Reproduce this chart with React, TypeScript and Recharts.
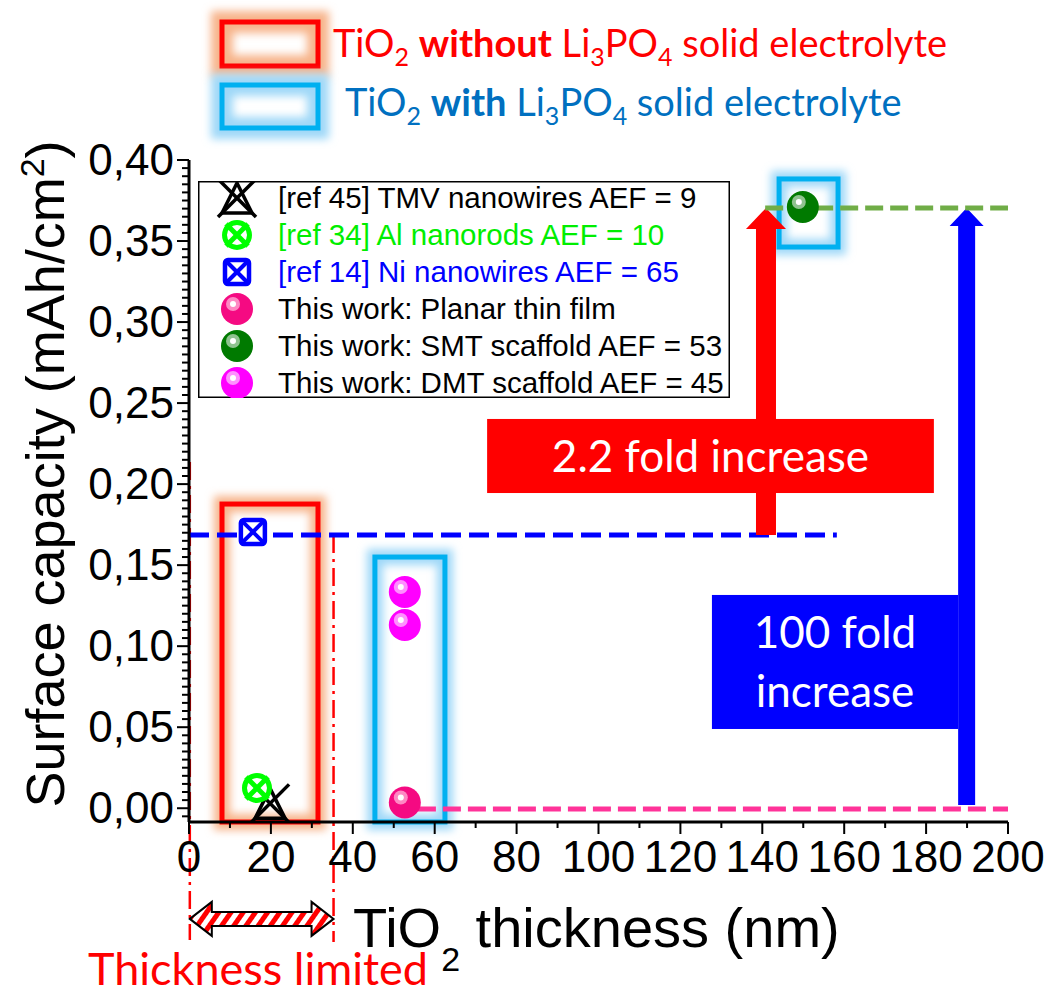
import React from 'react';
import { ScatterChart, Scatter, XAxis, YAxis, ReferenceLine, ReferenceArea, Legend } from 'recharts';

// TiO2 thickness (nm) vs surface capacity (mAh/cm2)
const tmvNanowires = [{ x: 19.8, y: 0.003 }];
const alNanorods = [{ x: 16.6, y: 0.0125 }];
const niNanowires = [{ x: 15.6, y: 0.1705 }];
const planarFilm = [{ x: 52.7, y: 0.0035 }];
const smtScaffold = [{ x: 149.9, y: 0.371 }];
const dmtScaffold = [{ x: 52.7, y: 0.1334 }, { x: 52.7, y: 0.1131 }];

const X_DOMAIN = [0, 200];
const Y_DOMAIN = [-0.0085, 0.4];
const X_TICKS = [0, 10, 20, 30, 40, 50, 60, 70, 80, 90, 100, 110, 120, 130, 140, 150, 160, 170, 180, 190, 200];
const Y_MAJOR = [0, 0.05, 0.1, 0.15, 0.2, 0.25, 0.3, 0.35, 0.4];
const Y_TICKS = Array.from({ length: 82 }, (_, i) => Math.round((i - 1) * 5) / 1000);

// guide levels / ranges
const NI_LEVEL = 0.1686;
const SMT_LEVEL = 0.3704;
const PLANAR_LEVEL = -0.0005;
const THICKNESS_LIMIT = 35.3;

const ARIAL = '"Liberation Sans", Arial, sans-serif';
const CALIBRI = 'Lato, "Open Sans", sans-serif';

const isMajorY = (v: number) => Y_MAJOR.some((m) => Math.abs(m - v) < 1e-6);

function GlowRect({ x, y, width, height, stroke, glow, id, spread = 16 }: any) {
  return (
    <g>
      <defs>
        <filter id={id} x="-60%" y="-60%" width="220%" height="220%">
          <feGaussianBlur stdDeviation="4.5" />
        </filter>
      </defs>
      <rect x={x} y={y} width={width} height={height} fill="none" stroke={glow} strokeWidth={spread} filter={`url(#${id})`} />
      <rect x={x} y={y} width={width} height={height} fill="none" stroke={stroke} strokeWidth={5} />
    </g>
  );
}

function Sphere({ cx, cy, color, light }: any) {
  return (
    <g>
      <circle cx={cx} cy={cy} r={16} fill={color} />
      <circle cx={cx - 4} cy={cy - 5} r={7} fill={light} opacity={0.85} />
      <circle cx={cx - 4} cy={cy - 5} r={3} fill="#ffffff" />
    </g>
  );
}

function TmvMarker({ cx, cy }: any) {
  return (
    <g stroke="#000" strokeWidth={3.5} fill="none">
      <line x1={cx - 19} y1={cy - 19} x2={cx + 19} y2={cy + 19} />
      <line x1={cx + 19} y1={cy - 19} x2={cx - 19} y2={cy + 19} />
      <polygon points={`${cx},${cy - 15} ${cx + 15},${cy + 15} ${cx - 15},${cy + 15}`} />
    </g>
  );
}

function AlMarker({ cx, cy }: any) {
  return (
    <g stroke="#00ff00" strokeWidth={5} fill="#fff">
      <circle cx={cx} cy={cy} r={12.5} />
      <line x1={cx - 11} y1={cy - 11} x2={cx + 11} y2={cy + 11} />
      <line x1={cx + 11} y1={cy - 11} x2={cx - 11} y2={cy + 11} />
    </g>
  );
}

function NiMarker({ cx, cy }: any) {
  return (
    <g stroke="#0000ff" fill="#fff">
      <rect x={cx - 12} y={cy - 12} width={24} height={24} rx={3} strokeWidth={4.5} />
      <line x1={cx - 11} y1={cy - 11} x2={cx + 11} y2={cy + 11} strokeWidth={4} />
      <line x1={cx + 11} y1={cy - 11} x2={cx - 11} y2={cy + 11} strokeWidth={4} />
    </g>
  );
}

const SERIES = [
  { name: '[ref 45] TMV nanowires AEF = 9', data: tmvNanowires, text: '#000000', Marker: TmvMarker },
  { name: '[ref 34] Al nanorods AEF = 10', data: alNanorods, text: '#00ee00', Marker: AlMarker },
  { name: '[ref 14] Ni nanowires AEF = 65', data: niNanowires, text: '#0000ff', Marker: NiMarker },
  { name: 'This work: Planar thin film', data: planarFilm, text: '#000000', Marker: (p: any) => <Sphere {...p} color="#f50a82" light="#ff9fcf" /> },
  { name: 'This work: SMT scaffold AEF = 53', data: smtScaffold, text: '#000000', Marker: (p: any) => <Sphere {...p} color="#007a00" light="#a8d0a8" /> },
  { name: 'This work: DMT scaffold AEF = 45', data: dmtScaffold, text: '#000000', Marker: (p: any) => <Sphere {...p} color="#ff00ff" light="#ffa8ff" /> },
];

const LeftTick = ({ x, y, payload }: any) => {
  const major = isMajorY(payload.value);
  return (
    <g>
      <line x1={x} x2={x - (major ? 12 : 7)} y1={y} y2={y} stroke="#000" strokeWidth={2} />
      {major && (
        <text x={x - 15} y={y + 15} textAnchor="end" fontSize={44} fontFamily={ARIAL} fill="#000">
          {payload.value.toFixed(2).replace('.', ',')}
        </text>
      )}
    </g>
  );
};

const RightTick = ({ x, y, payload }: any) => {
  const major = isMajorY(payload.value);
  return <line x1={x} x2={x - (major ? 12 : 7)} y1={y} y2={y} stroke="#000" strokeWidth={2} />;
};

const BottomTick = ({ x, y, payload }: any) => {
  const major = payload.value % 20 === 0;
  return (
    <g>
      <line x1={x} x2={x} y1={y} y2={y + (major ? 12 : 6)} stroke="#000" strokeWidth={2} />
      {major && (
        <text x={x} y={y + 50} textAnchor="middle" fontSize={44} fontFamily={ARIAL} fill="#000">
          {payload.value}
        </text>
      )}
    </g>
  );
};

const TopTick = ({ x, y }: any) => <line x1={x} x2={x} y1={y} y2={y + 10} stroke="#000" strokeWidth={2} />;

const glowBox = (stroke: string, glow: string, id: string) => (p: any) => (
  <GlowRect x={p.x} y={p.y} width={p.width} height={p.height} stroke={stroke} glow={glow} id={id} />
);

const upArrow = (color: string, shaft: number, head: number, headLen: number) => (p: any) => {
  const x = p.x1;
  const tip = Math.min(p.y1, p.y2);
  const base = Math.max(p.y1, p.y2);
  const pts = [
    [x, tip], [x + head, tip + headLen], [x + shaft, tip + headLen], [x + shaft, base],
    [x - shaft, base], [x - shaft, tip + headLen], [x - head, tip + headLen],
  ];
  return <polygon points={pts.map((q) => q.join(',')).join(' ')} fill={color} />;
};

const hatchedArrow = (p: any) => {
  const x0 = Math.min(p.x1, p.x2);
  const x1 = Math.max(p.x1, p.x2);
  const cy = p.y1;
  const h = 7, H = 17, L = 22;
  const pts = [
    [x0, cy], [x0 + L, cy - H], [x0 + L, cy - h], [x1 - L, cy - h], [x1 - L, cy - H],
    [x1, cy], [x1 - L, cy + H], [x1 - L, cy + h], [x0 + L, cy + h], [x0 + L, cy + H],
  ];
  return (
    <g>
      <defs>
        <pattern id="hatch" patternUnits="userSpaceOnUse" width={10} height={10} patternTransform="rotate(35)">
          <rect width={10} height={10} fill="#fff" />
          <rect width={5} height={10} fill="#ff0000" />
        </pattern>
      </defs>
      <polygon points={pts.map((q) => q.join(',')).join(' ')} fill="url(#hatch)" stroke="#000" strokeWidth={2} />
    </g>
  );
};

// callout drawn from a diagonal segment (corner to corner) so it stacks with the arrows
const callout = (fill: string, lines: string[], offsets: number[]) => (p: any) => {
  const x = Math.min(p.x1, p.x2);
  const y = Math.min(p.y1, p.y2);
  const w = Math.abs(p.x2 - p.x1);
  const h = Math.abs(p.y2 - p.y1);
  const cx = x + w / 2;
  const cy = y + h / 2;
  return (
    <g>
      <rect x={x} y={y} width={w} height={h} fill={fill} />
      {lines.map((t, i) => (
        <text key={t} x={cx} y={cy + offsets[i]} textAnchor="middle" fontSize={44} fontFamily={CALIBRI} fill="#fff">
          {t}
        </text>
      ))}
    </g>
  );
};

const renderLegend = () => (
  <svg width={532} height={217} style={{ display: 'block' }}>
    <rect x={0.75} y={0.75} width={530.5} height={215.5} fill="#fff" stroke="#000" strokeWidth={1.5} />
    {SERIES.map((s, i) => {
      const cy = 17 + i * 37;
      const M = s.Marker;
      return (
        <g key={s.name}>
          <M cx={39} cy={cy} />
          <text x={80} y={cy + 10} fontSize={29.5} fontFamily={ARIAL} fill={s.text}>
            {s.name}
          </text>
        </g>
      );
    })}
  </svg>
);

const sub = (t: string) => (
  <tspan dy={9} fontSize={25}>{t}</tspan>
);

export default function App() {
  return (
    <div style={{ position: 'absolute', left: 0, top: 0, width: 1048, height: 996, background: '#fff' }}>
      <ScatterChart width={1048} height={996} margin={{ top: 160, right: 40, bottom: 0, left: 0 }}>
        <XAxis
          type="number" dataKey="x" domain={X_DOMAIN} ticks={X_TICKS} interval={0} height={174}
          tickSize={0} tickMargin={0} tickLine={false} tick={BottomTick} allowDataOverflow
          axisLine={{ stroke: '#000', strokeWidth: 3 }}
        />
        <XAxis
          xAxisId="top" orientation="top" type="number" domain={X_DOMAIN} ticks={X_TICKS} interval={0} height={0}
          tickSize={0} tickMargin={0} tickLine={false} tick={TopTick} allowDataOverflow
          axisLine={{ stroke: '#000', strokeWidth: 3 }}
        />
        <YAxis
          type="number" dataKey="y" domain={Y_DOMAIN} ticks={Y_TICKS} interval={0} width={189}
          tickSize={0} tickMargin={0} tickLine={false} tick={LeftTick} allowDataOverflow
          axisLine={{ stroke: '#000', strokeWidth: 3 }}
        />
        <YAxis
          yAxisId="right" orientation="right" type="number" domain={Y_DOMAIN} ticks={Y_TICKS} interval={0} width={0}
          tickSize={0} tickMargin={0} tickLine={false} tick={RightTick} allowDataOverflow
          axisLine={{ stroke: '#000', strokeWidth: 3 }}
        />

        <ReferenceArea x1={8.06} x2={31.5} y1={Y_DOMAIN[0]} y2={0.1877} ifOverflow="visible" shape={glowBox('#ff0000', '#f7b48a', 'g1')} />
        <ReferenceArea x1={45.4} x2={62.5} y1={Y_DOMAIN[0]} y2={0.155} ifOverflow="visible" shape={glowBox('#00b0f0', '#9fd8f8', 'g2')} />
        <ReferenceArea x1={144.1} x2={158.5} y1={0.3463} y2={0.3883} ifOverflow="visible" shape={glowBox('#00b0f0', '#9fd8f8', 'g3')} />

        <ReferenceLine segment={[{ x: 0.2, y: 0.2136 }, { x: 0.2, y: -0.0813 }]} ifOverflow="visible" stroke="#ff0000" strokeWidth={2.5} strokeDasharray="18 6 3 6" />
        <ReferenceLine segment={[{ x: THICKNESS_LIMIT, y: NI_LEVEL }, { x: THICKNESS_LIMIT, y: -0.0825 }]} ifOverflow="visible" stroke="#ff0000" strokeWidth={2.5} strokeDasharray="18 6 3 6" />
        <ReferenceLine segment={[{ x: 0.2, y: -0.0683 }, { x: THICKNESS_LIMIT, y: -0.0683 }]} ifOverflow="visible" shape={hatchedArrow} />

        <ReferenceLine segment={[{ x: 0, y: NI_LEVEL }, { x: 158.2, y: NI_LEVEL }]} ifOverflow="visible" stroke="#0000ff" strokeWidth={5} strokeDasharray="20 8" />
        <ReferenceLine segment={[{ x: 55.9, y: PLANAR_LEVEL }, { x: 200, y: PLANAR_LEVEL }]} ifOverflow="visible" stroke="#ff3399" strokeWidth={5} strokeDasharray="18 7" />

        <ReferenceLine segment={[{ x: 140.9, y: NI_LEVEL }, { x: 140.9, y: SMT_LEVEL }]} ifOverflow="visible" shape={upArrow('#ff0000', 10, 20, 21)} />
        <ReferenceLine segment={[{ x: 72.8, y: 0.2402 }, { x: 181.9, y: 0.1945 }]} ifOverflow="visible" shape={callout('#ff0000', ['2.2 fold increase'], [16])} />
        <ReferenceLine segment={[{ x: 127.7, y: 0.1316 }, { x: 187.8, y: 0.0489 }]} ifOverflow="visible" shape={callout('#0000ff', ['100 fold', 'increase'], [-14, 45])} />
        <ReferenceLine segment={[{ x: 189.9, y: 0.002 }, { x: 189.9, y: SMT_LEVEL }]} ifOverflow="visible" shape={upArrow('#0000ff', 8.5, 17, 18)} />

        {SERIES.map((s) => {
          const M = s.Marker;
          return (
            <Scatter key={s.name} name={s.name} data={s.data} isAnimationActive={false} shape={(p: any) => <M cx={p.cx} cy={p.cy} />} />
          );
        })}

        <ReferenceLine segment={[{ x: 140.7, y: SMT_LEVEL }, { x: 200, y: SMT_LEVEL }]} ifOverflow="visible" stroke="#70ad47" strokeWidth={5} strokeDasharray="18 7" />

        <Legend
          layout="horizontal" verticalAlign="middle" align="center" content={renderLegend}
          wrapperStyle={{ left: 198, top: 181, width: 532, height: 217 }}
        />
      </ScatterChart>

      <svg width={1048} height={996} style={{ position: 'absolute', left: 0, top: 0, pointerEvents: 'none' }}>
        <GlowRect x={222} y={22} width={96} height={44} stroke="#ff0000" glow="#f7b48a" id="t1" spread={22} />
        <GlowRect x={222} y={85} width={96} height={43} stroke="#00b0f0" glow="#9fd8f8" id="t2" spread={22} />
        <text x={333} y={57} fontSize={38} fontFamily={CALIBRI} fill="#ff0000">
          TiO{sub('2')}<tspan dy={-9}> </tspan>
          <tspan fontWeight={700}>without</tspan> Li{sub('3')}<tspan dy={-9}>PO</tspan>{sub('4')}
          <tspan dy={-9}> solid electrolyte</tspan>
        </text>
        <text x={345} y={116} fontSize={38} fontFamily={CALIBRI} fill="#0070c0">
          TiO{sub('2')}<tspan dy={-9}> </tspan>
          <tspan fontWeight={700}>with</tspan> Li{sub('3')}<tspan dy={-9}>PO</tspan>{sub('4')}
          <tspan dy={-9}> solid electrolyte</tspan>
        </text>

        <text transform="translate(64,474) rotate(-90)" textAnchor="middle" fontSize={54} fontFamily={ARIAL} fill="#000">
          Surface capacity (mAh/cm<tspan dy={-20} fontSize={34}>2</tspan><tspan dy={20}>)</tspan>
        </text>
        <text x={353} y={947} fontSize={56} fontFamily={ARIAL} fill="#000">
          TiO<tspan dy={24} fontSize={34}>2</tspan><tspan dy={-24}> thickness (nm)</tspan>
        </text>
        <text x={258} y={985} textAnchor="middle" fontSize={45} fontFamily={CALIBRI} fill="#ff0000">
          Thickness limited
        </text>
      </svg>
    </div>
  );
}
